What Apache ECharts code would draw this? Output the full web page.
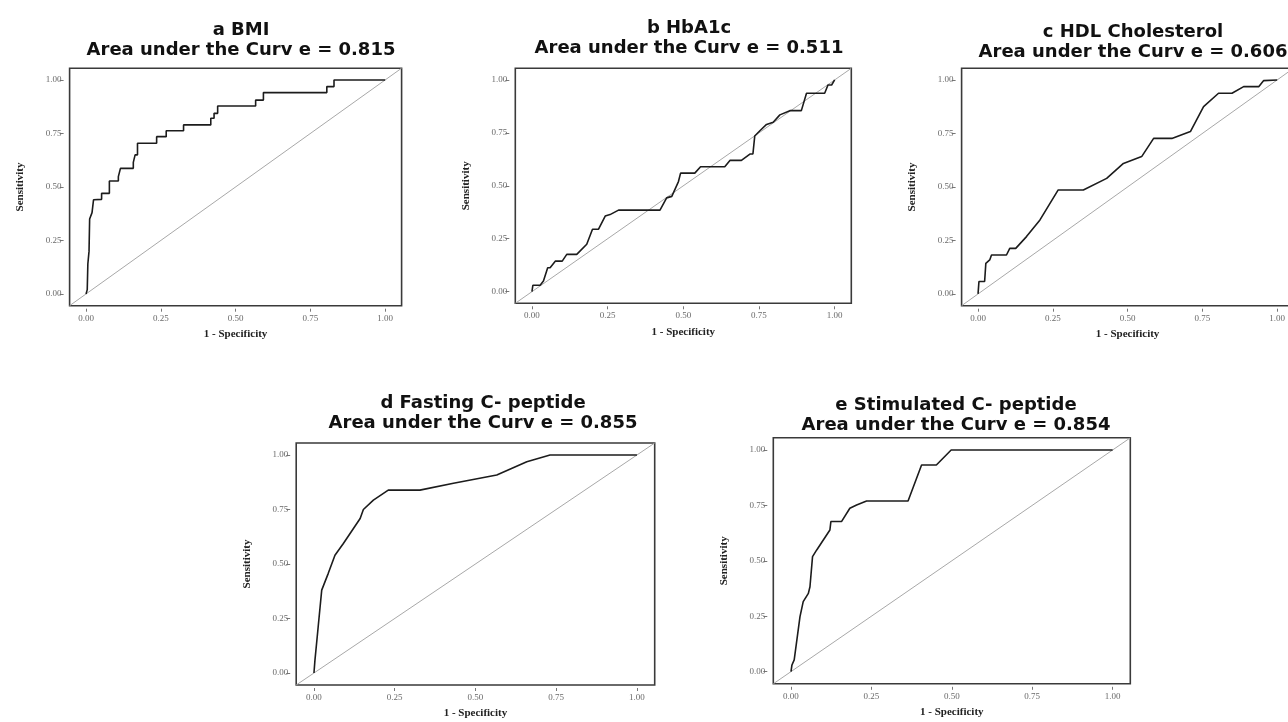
<!DOCTYPE html>
<html><head><meta charset="utf-8">
<script src="https://cdn.jsdelivr.net/npm/echarts@6/dist/echarts.min.js"></script>
<style>html,body{margin:0;padding:0;background:#fff;overflow:hidden;width:1288px;height:722px}#c{width:1298px;height:722px}</style>
</head><body><div id="c"></div>
<script>
// ---- data ----
const panelNames = ['a BMI', 'b HbA1c', 'c HDL Cholesterol', 'd Fasting C- peptide', 'e Stimulated C- peptide'];
const aucValues = ['0.815', '0.511', '0.606', '0.855', '0.854'];

const bmiFpr  = [0, 0.004, 0.006, 0.010, 0.012, 0.020, 0.025, 0.030, 0.052, 0.052, 0.078, 0.078, 0.108, 0.108, 0.115, 0.158, 0.158, 0.164, 0.172, 0.172, 0.236, 0.236, 0.268, 0.268, 0.326, 0.326, 0.417, 0.417, 0.428, 0.428, 0.440, 0.440, 0.567, 0.567, 0.593, 0.593, 0.805, 0.805, 0.829, 0.829, 1.0];
const bmiSens = [0, 0.020, 0.140, 0.200, 0.350, 0.380, 0.440, 0.442, 0.442, 0.470, 0.470, 0.528, 0.528, 0.548, 0.587, 0.587, 0.615, 0.650, 0.650, 0.704, 0.704, 0.735, 0.735, 0.763, 0.763, 0.790, 0.790, 0.821, 0.821, 0.844, 0.844, 0.878, 0.878, 0.906, 0.906, 0.941, 0.941, 0.969, 0.969, 1.0, 1.0];

const hbFpr  = [0, 0.003, 0.027, 0.038, 0.052, 0.060, 0.077, 0.100, 0.115, 0.148, 0.181, 0.200, 0.220, 0.242, 0.258, 0.286, 0.423, 0.445, 0.462, 0.484, 0.491, 0.538, 0.557, 0.637, 0.654, 0.692, 0.720, 0.730, 0.736, 0.753, 0.775, 0.797, 0.819, 0.852, 0.890, 0.907, 0.967, 0.978, 0.990, 1.0];
const hbSens = [0, 0.030, 0.030, 0.050, 0.113, 0.113, 0.144, 0.144, 0.176, 0.176, 0.224, 0.295, 0.295, 0.357, 0.364, 0.385, 0.385, 0.443, 0.450, 0.520, 0.560, 0.560, 0.590, 0.590, 0.620, 0.620, 0.650, 0.650, 0.735, 0.760, 0.790, 0.800, 0.835, 0.855, 0.855, 0.937, 0.937, 0.976, 0.976, 1.0];

const hdlFpr  = [0, 0.003, 0.022, 0.026, 0.039, 0.045, 0.095, 0.106, 0.126, 0.162, 0.207, 0.268, 0.352, 0.430, 0.486, 0.547, 0.587, 0.648, 0.710, 0.754, 0.804, 0.849, 0.888, 0.939, 0.955, 1.0];
const hdlSens = [0, 0.058, 0.058, 0.143, 0.159, 0.182, 0.182, 0.213, 0.213, 0.268, 0.346, 0.486, 0.486, 0.540, 0.610, 0.642, 0.727, 0.727, 0.759, 0.875, 0.938, 0.938, 0.969, 0.969, 0.997, 1.0];

const fastFpr  = [0, 0.003, 0.013, 0.024, 0.044, 0.065, 0.091, 0.143, 0.153, 0.184, 0.230, 0.328, 0.432, 0.566, 0.659, 0.731, 1.0];
const fastSens = [0, 0.058, 0.211, 0.380, 0.456, 0.540, 0.594, 0.709, 0.750, 0.793, 0.839, 0.839, 0.870, 0.908, 0.969, 1.0, 1.0];

const stimFpr  = [0, 0.003, 0.010, 0.028, 0.038, 0.054, 0.059, 0.067, 0.080, 0.121, 0.124, 0.157, 0.183, 0.204, 0.235, 0.364, 0.406, 0.452, 0.498, 1.0];
const stimSens = [0, 0.030, 0.053, 0.248, 0.316, 0.353, 0.383, 0.519, 0.549, 0.639, 0.677, 0.677, 0.737, 0.752, 0.770, 0.770, 0.932, 0.932, 1.0, 1.0];

const tickValues = [0, 0.25, 0.5, 0.75, 1];
const tickLabels = ['0.00', '0.25', '0.50', '0.75', '1.00'];
const xAxisTitle = '1 - Specificity';
const yAxisTitle = 'Sensitivity';
const refLine = [-0.055, 1.055];

const curveX = [bmiFpr, hbFpr, hdlFpr, fastFpr, stimFpr];
const curveY = [bmiSens, hbSens, hdlSens, fastSens, stimSens];

// ---- layout ----
const layouts = [
  {left: 69.6,  top: 68.2,  width: 332,   height: 237.5, tx: 236,  ty: 15},
  {left: 515.3, top: 68.3,  width: 336,   height: 235,   tx: 684,  ty: 13},
  {left: 961.6, top: 68.2,  width: 332,   height: 237.5, tx: 1128, ty: 17},
  {left: 296.2, top: 443,   width: 358.5, height: 242,   tx: 478,  ty: 388},
  {left: 773.3, top: 437.8, width: 357,   height: 246,   tx: 951,  ty: 390}
];

const grids = [], xAxes = [], yAxes = [], series = [], titles = [];
const fmt = v => { const i = tickValues.findIndex(t => Math.abs(t - v) < 1e-9); return i >= 0 ? tickLabels[i] : ''; };
const labelFont = {fontFamily: 'Liberation Serif', fontSize: 9, color: '#6a6a6a'};
const nameFont = {fontFamily: 'Liberation Serif', fontSize: 11, fontWeight: 'bold', color: '#222'};

layouts.forEach((L, i) => {
  grids.push({left: L.left, top: L.top, width: L.width, height: L.height, show: true,
    borderColor: '#3a3a3a', borderWidth: 1.6, backgroundColor: '#fff', containLabel: false});
  xAxes.push({type: 'value', gridIndex: i, min: refLine[0], max: refLine[1], offset: 3, position: 'bottom',
    axisLine: {show: false, onZero: false}, splitLine: {show: false},
    axisTick: {show: true, length: 3, customValues: tickValues, lineStyle: {color: '#777'}},
    axisLabel: {show: true, customValues: tickValues, formatter: fmt, margin: 5, ...labelFont},
    name: xAxisTitle, nameLocation: 'middle', nameGap: 20, nameTextStyle: nameFont});
  yAxes.push({type: 'value', gridIndex: i, min: refLine[0], max: refLine[1], offset: 6, position: 'left',
    axisLine: {show: false, onZero: false}, splitLine: {show: false},
    axisTick: {show: true, length: 4, customValues: tickValues, lineStyle: {color: '#777'}},
    axisLabel: {show: true, customValues: tickValues, formatter: fmt, margin: 2, ...labelFont},
    name: yAxisTitle, nameLocation: 'middle', nameGap: 38, nameRotate: 90, nameTextStyle: nameFont});
  series.push({type: 'line', xAxisIndex: i, yAxisIndex: i, showSymbol: false, silent: true,
    data: [[refLine[0], refLine[0]], [refLine[1], refLine[1]]],
    lineStyle: {color: '#a8a8a8', width: 1}});
  series.push({type: 'line', xAxisIndex: i, yAxisIndex: i, showSymbol: false, silent: true,
    data: curveX[i].map((x, k) => [x, curveY[i][k]]),
    lineStyle: {color: '#1c1c1c', width: 1.6}});
  titles.push({text: panelNames[i] + '\nArea under the Curv e = ' + aucValues[i],
    left: L.tx, top: L.ty, textAlign: 'center',
    textStyle: {fontFamily: 'DejaVu Sans', fontWeight: 'bold', fontSize: 18, lineHeight: 20, color: '#111'}});
});

const chart = echarts.init(document.getElementById('c'), null, {renderer: 'canvas'});
chart.setOption({animation: false, backgroundColor: '#fff', title: titles, grid: grids, xAxis: xAxes, yAxis: yAxes, series: series});
</script>
</body></html>
